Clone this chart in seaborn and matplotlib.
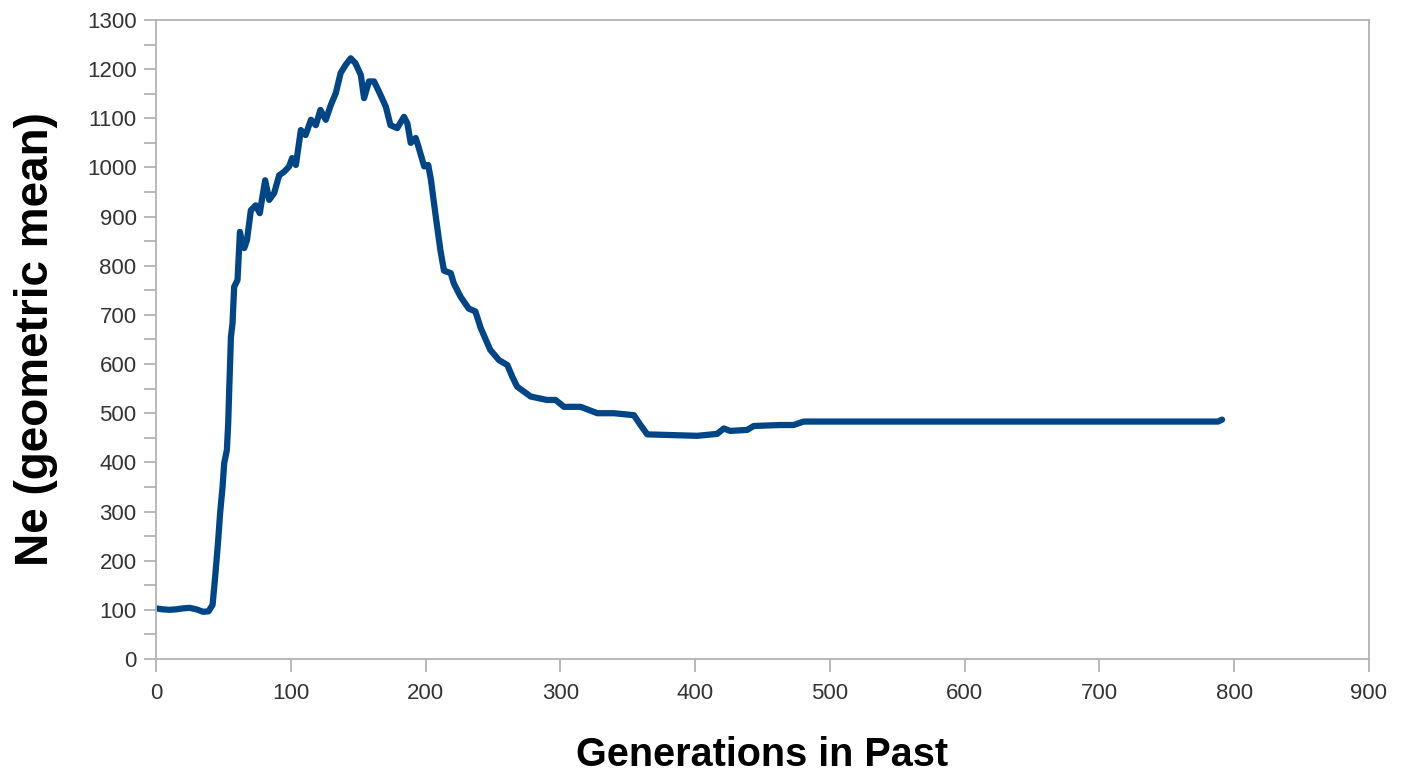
import matplotlib
matplotlib.use("Agg")
import matplotlib.pyplot as plt
import seaborn as sns
import pandas as pd
from matplotlib.ticker import MultipleLocator

generations = [0, 5, 10, 15, 20, 25, 30, 35, 39, 42, 44, 46, 47.6, 49.4, 50.6, 52.6, 53.6,
               54.4, 55, 55.6, 56.8, 58, 60.5, 61.5, 62.3, 64, 65.5, 67.5, 70.4, 74, 77, 81,
               84, 87.7, 91.4, 95, 98.8, 101, 103.8, 107.5, 111, 115, 118.6, 122, 126, 129.7,
               133.4, 137, 140.8, 144.5, 148, 152, 154.4, 158, 161.8, 165.5, 170.5, 174, 179,
               184, 186.5, 189, 192.7, 195, 199, 202, 204, 207.6, 211, 213.7, 218.7, 221, 226,
               232, 237, 241, 248, 254.5, 260.7, 264.4, 268, 278, 290, 296.5, 302.7, 315,
               327.5, 339.8, 354.6, 359.5, 364.5, 376.8, 401.6, 416.4, 421.3, 426, 438.6,
               443.5, 463, 473, 480.6, 500, 600, 700, 788, 791]
ne_values = [103, 101, 100, 101, 103, 104, 101, 96, 97, 110, 170, 236, 297, 350, 398, 425, 480,
             553, 602, 655, 683, 757, 771, 826, 869, 845, 836, 852, 913, 923, 907, 974,
             934, 948, 984, 991, 1002, 1019, 1005, 1076, 1066, 1097, 1086, 1117, 1097, 1127,
             1151, 1192, 1209, 1222, 1212, 1188, 1141, 1175, 1175, 1154, 1124, 1086, 1080,
             1103, 1090, 1050, 1060, 1040, 1002, 1005, 975, 900, 832, 790, 785, 764, 737,
             713, 707, 673, 629, 608, 598, 574, 554, 534, 527, 527, 513, 513,
             500, 500, 496, 476, 457, 456, 454, 458, 469, 464, 466,
             474, 476, 476, 483, 483, 483, 483, 483, 487]

df = pd.DataFrame({"Generations in Past": generations, "Ne": ne_values})

sns.set_theme(style="white")
plt.rcParams['font.family'] = ['Liberation Sans', 'DejaVu Sans']

fig = plt.figure(figsize=(14.09, 7.75), dpi=100)
ax = fig.add_axes([0.1107, 0.1497, 0.8609, 0.8245])

sns.lineplot(data=df, x="Generations in Past", y="Ne", ax=ax, sort=False,
             estimator=None, color="#004586", linewidth=4.5, solid_capstyle="round",
             solid_joinstyle="round")

ax.set_xlim(0, 900)
ax.set_ylim(0, 1300)
ax.xaxis.set_major_locator(MultipleLocator(100))
ax.yaxis.set_major_locator(MultipleLocator(100))
ax.yaxis.set_minor_locator(MultipleLocator(50))

for s in ax.spines.values():
    s.set_color("#b3b3b3")
    s.set_linewidth(1.3)

ax.tick_params(axis="both", which="major", direction="out", length=9, width=1.3,
               color="#b3b3b3", labelsize=16, labelcolor="#333333", pad=5,
               bottom=True, left=True)
ax.tick_params(axis="x", which="major", pad=8)
ax.tick_params(axis="y", which="minor", direction="out", length=9, width=1.3,
               color="#b3b3b3", left=True)

ax.set_xlabel("Generations in Past", fontsize=28.5, fontweight="bold", color="black",
              labelpad=23)
ax.set_ylabel("Ne (geometric mean)", fontsize=33, fontweight="bold", color="black",
              labelpad=21)

fig.savefig("out.png", dpi=100)
